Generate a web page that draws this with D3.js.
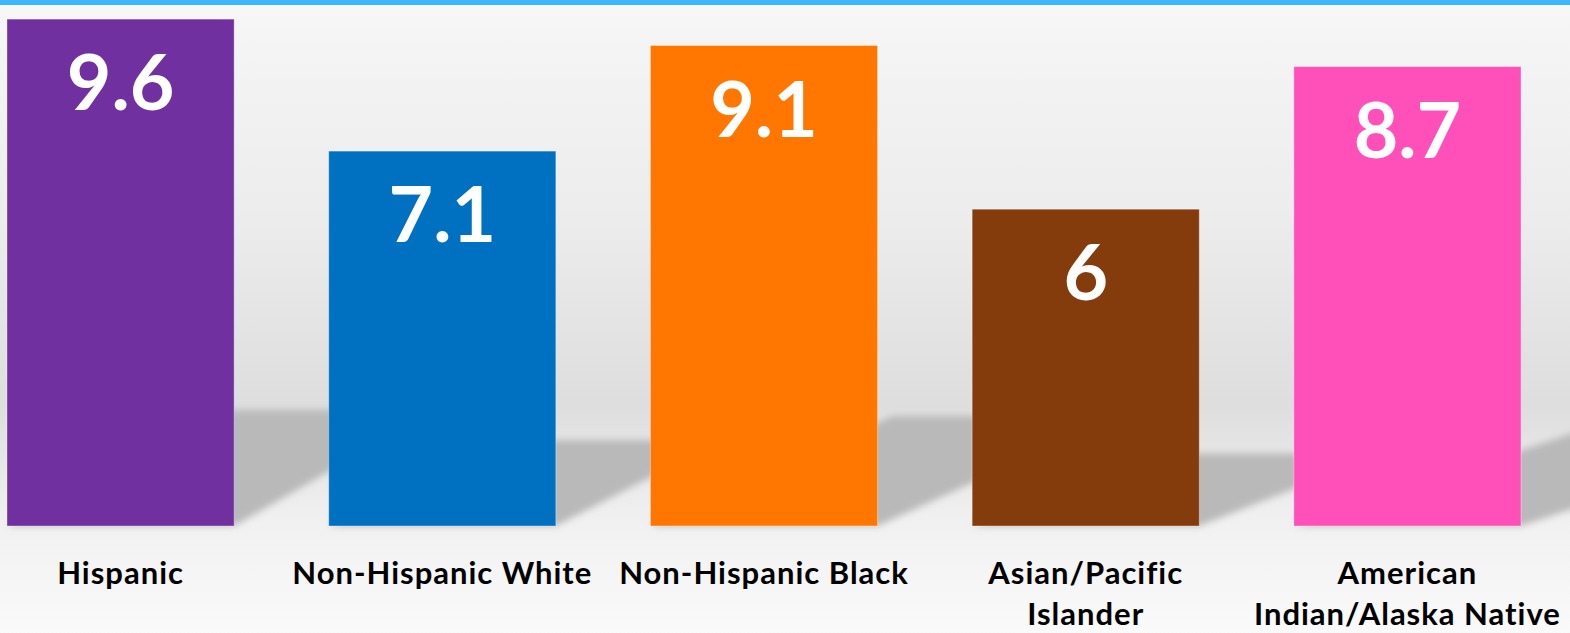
<!DOCTYPE html>
<html>
<head>
<meta charset="utf-8">
<script src="https://cdn.jsdelivr.net/npm/d3@7"></script>
<style>
  html, body { margin: 0; padding: 0; background: #f5f5f5; }
  svg { display: block; }
</style>
</head>
<body>
<svg id="chart" width="1570" height="633"></svg>
<script>
// ---- data ----
const categories = ["Hispanic", "Non-Hispanic White", "Non-Hispanic Black", "Asian/Pacific Islander", "American Indian/Alaska Native"];
const labelLines = [["Hispanic"], ["Non-Hispanic White"], ["Non-Hispanic Black"], ["Asian/Pacific", "Islander"], ["American", "Indian/Alaska Native"]];
const values = [9.6, 7.1, 9.1, 6, 8.7];
const valueLabels = ["9.6", "7.1", "9.1", "6", "8.7"];
const colors = ["#7030a0", "#0070c0", "#ff7700", "#843c0c", "#ff4fb8"];

const W = 1570, H = 633;
const baseY = 526;
const svg = d3.select("#chart");

// background gradient
const defs = svg.append("defs");
const bg = defs.append("linearGradient").attr("id", "bg").attr("x1", 0).attr("y1", 0).attr("x2", 0).attr("y2", 1);
[[0, "#f8f8f8"], [0.05, "#f5f5f5"], [0.35, "#ececec"], [0.55, "#e2e2e2"], [0.64, "#dedede"], [0.72, "#e6e6e6"], [0.83, "#f1f1f1"], [1, "#fafafa"]]
  .forEach(([o, c]) => bg.append("stop").attr("offset", o).attr("stop-color", c));
svg.append("rect").attr("width", W).attr("height", H).attr("fill", "url(#bg)");

const blur = defs.append("filter").attr("id", "blur").attr("x", "-20%").attr("y", "-20%").attr("width", "140%").attr("height", "140%");
blur.append("feGaussianBlur").attr("stdDeviation", 3.5);

// scales
const x = d3.scaleBand().domain(categories).range([7, 1521]).paddingInner(0.294).paddingOuter(0);
const y = d3.scaleLinear().domain([0, 10]).range([baseY, -2]);

const data = categories.map((c, i) => ({ c, v: values[i], label: valueLabels[i], color: colors[i], lines: labelLines[i] }));

// perspective shadows
const shadowG = svg.append("g").attr("filter", "url(#blur)");
shadowG.selectAll("path").data(data).join("path")
  .attr("fill", "#b9b9b9")
  .attr("d", d => {
    const x0 = x(d.c), x1 = x(d.c) + x.bandwidth();
    const hs = (baseY - y(d.v)) * 0.229;
    const xc = (x0 + x1) / 2;
    const slope = 0.6 - 0.00019 * xc;
    const dx = hs / slope;
    return `M${x0},${baseY}L${x1},${baseY}L${x1 + dx},${baseY - hs}L${x0 + dx},${baseY - hs}Z`;
  });

// bars
svg.append("g").selectAll("rect").data(data).join("rect")
  .attr("x", d => x(d.c))
  .attr("y", d => y(d.v))
  .attr("width", x.bandwidth())
  .attr("height", d => baseY - y(d.v))
  .attr("fill", d => d.color)
  .attr("stroke", "rgba(255,255,255,0.35)")
  .attr("stroke-width", 1);

// value labels
svg.append("g").selectAll("text").data(data).join("text")
  .attr("x", d => x(d.c) + x.bandwidth() / 2)
  .attr("y", d => y(d.v) + 91)
  .attr("text-anchor", "middle")
  .attr("font-family", "Lato, 'Open Sans', sans-serif")
  .attr("font-weight", 700)
  .attr("font-size", 77)
  .attr("fill", "#ffffff")
  .text(d => d.label);

// category labels
const catG = svg.append("g").selectAll("text").data(data).join("text")
  .attr("x", d => x(d.c) + x.bandwidth() / 2)
  .attr("y", 584)
  .attr("text-anchor", "middle")
  .attr("font-family", "Lato, 'Open Sans', sans-serif")
  .attr("font-weight", 700)
  .attr("font-size", 31)
  .attr("letter-spacing", 1)
  .attr("fill", "#000000");
catG.selectAll("tspan").data(d => d.lines.map(l => ({ l, cx: x(d.c) + x.bandwidth() / 2 }))).join("tspan")
  .attr("x", t => t.cx)
  .attr("dy", (t, i) => i === 0 ? 0 : 41)
  .text(t => t.l);

// top accent line
svg.append("rect").attr("x", 0).attr("y", 0).attr("width", W).attr("height", 5).attr("fill", "#3bb6fd");
</script>
</body>
</html>
